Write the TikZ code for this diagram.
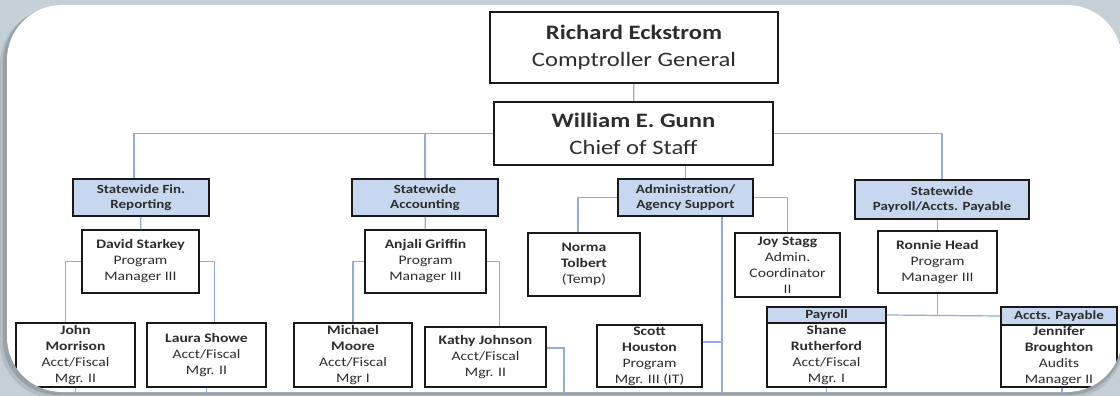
\documentclass[tikz,border=0pt]{standalone}
\usepackage{fontspec}
\setmainfont{Carlito}[FakeStretch=1.2]
\usepackage{tikz}
\definecolor{orgline}{RGB}{146,172,214}
\definecolor{unitfill}{RGB}{198,215,239}
\definecolor{slidebg}{RGB}{197,207,214}
\definecolor{slideshade}{RGB}{120,130,138}
\definecolor{orgtext}{RGB}{45,45,45}
\tikzstyle{node_top} = [rectangle, draw=black!90, line width=1.8pt, fill=white, inner sep=0pt, align=center, text=orgtext, font=\fontsize{20.5}{27}\selectfont]
\tikzstyle{node_unit} = [rectangle, draw=black!90, line width=1.6pt, fill=unitfill, inner sep=0pt, align=center, text=orgtext, font=\fontsize{12.5}{14.5}\selectfont\bfseries]
\tikzstyle{node_staff} = [rectangle, draw=black!90, line width=1.6pt, fill=white, inner sep=0pt, align=center, text=orgtext, font=\fontsize{13}{16}\selectfont]
\tikzstyle{edge_org} = [orgline, line width=1.2pt]

\begin{document}
\begin{tikzpicture}[x=1pt,y=-1pt]
\useasboundingbox (0,0) rectangle (1120,396);
\fill[slidebg] (0,0) rectangle (1120,396);
\fill[slideshade, opacity=0.25, rounded corners=55pt] (0,9) rectangle (1124,398);
\fill[slideshade, opacity=0.45, rounded corners=55pt] (3,7) rectangle (1123,395);
\fill[white, rounded corners=55pt] (7,5) rectangle (1122,392);

\begin{scope}
\clip[rounded corners=55pt] (7,5) rectangle (1122,392);

\node (rich) at (634,47.5) [node_top, minimum width=288pt, minimum height=71pt] {\textbf{Richard Eckstrom}\\Comptroller General};
\node (gunn) at (633.5,133.5) [node_top, minimum width=279pt, minimum height=63pt] {\textbf{William E. Gunn}\\Chief of Staff};

\node (fin) at (141,197.5) [node_unit, minimum width=136pt, minimum height=37pt] {Statewide Fin.\\Reporting};
\node (acct) at (425,197.5) [node_unit, minimum width=146pt, minimum height=37pt] {Statewide\\Accounting};
\node (admin) at (685.5,197.5) [node_unit, minimum width=135pt, minimum height=37pt] {Administration/\\Agency Support};
\node (pay) at (942,199.5) [node_unit, minimum width=174pt, minimum height=39pt] {Statewide\\Payroll/Accts. Payable};

\node (starkey) at (140.5,261.5) [node_staff, minimum width=117pt, minimum height=63pt] {\textbf{David Starkey}\\Program\\Manager III};
\node (griffin) at (425.5,261.5) [node_staff, minimum width=121pt, minimum height=63pt] {\textbf{Anjali Griffin}\\Program\\Manager III};
\node (tolbert) at (584,264.5) [node_staff, minimum width=112pt, minimum height=63pt] {\textbf{Norma}\\\textbf{Tolbert}\\(Temp)};
\node (stagg) at (787.5,265) [node_staff, minimum width=105pt, minimum height=64pt] {\textbf{Joy Stagg}\\Admin.\\Coordinator\\II};
\node (head) at (937.5,262) [node_staff, minimum width=119pt, minimum height=62pt] {\textbf{Ronnie Head}\\Program\\Manager III};

\node (morrison) at (75.5,355) [node_staff, minimum width=119pt, minimum height=64pt] {\textbf{John}\\\textbf{Morrison}\\Acct/Fiscal\\Mgr. II};
\node (showe) at (206.5,355) [node_staff, minimum width=119pt, minimum height=64pt] {\textbf{Laura Showe}\\Acct/Fiscal\\Mgr. II};
\node (moore) at (353,355) [node_staff, minimum width=118pt, minimum height=64pt] {\textbf{Michael}\\\textbf{Moore}\\Acct/Fiscal\\Mgr I};
\node (johnson) at (485.5,357) [node_staff, minimum width=121pt, minimum height=60pt] {\textbf{Kathy Johnson}\\Acct/Fiscal\\Mgr. II};
\node (houston) at (649.5,356) [node_staff, minimum width=105pt, minimum height=62pt] {\textbf{Scott}\\\textbf{Houston}\\Program\\Mgr. III (IT)};

\node (rutherford) at (826.5,355) [node_staff, minimum width=119pt, minimum height=64pt] {\textbf{Shane}\\\textbf{Rutherford}\\Acct/Fiscal\\Mgr. I};
\node (payroll_hdr) at (826.5,315) [node_unit, minimum width=119pt, minimum height=16pt] {Payroll};
\node (broughton) at (1059,356) [node_staff, minimum width=116pt, minimum height=62pt] {\textbf{Jennifer}\\\textbf{Broughton}\\Audits\\Manager II};
\node (payables_hdr) at (1059,316) [node_unit, minimum width=116pt, minimum height=18pt] {Accts. Payable};

\coordinate (admin_bus) at (722,400);
\coordinate (kathy_bus) at (564,400);
\coordinate (stub_a) at (75.5,400);
\coordinate (stub_b) at (206.5,400);
\coordinate (stub_c) at (826.5,400);
\coordinate (stub_d) at (1062,400);

\draw[edge_org] (rich) -- (gunn);
\draw[edge_org] (gunn.west) -| ([xshift=-7pt]fin.north);
\draw[edge_org] (gunn.west) -| (acct.north);
\draw[edge_org] (gunn.east) -| (pay.north);
\draw[edge_org] (admin.north |- gunn.south) -- (admin.north);

\draw[edge_org] (fin) -- (starkey);
\draw[edge_org] (acct) -- (griffin);
\draw[edge_org] (head.north |- pay.south) -- (head.north);

\draw[edge_org] (starkey.west) -| ([xshift=-10pt]morrison.north);
\draw[edge_org] (starkey.east) -| ([xshift=8pt]showe.north);
\draw[edge_org] (griffin.west) -| (moore.north);
\draw[edge_org] (griffin.east) -| ([xshift=14pt]johnson.north);
\draw[edge_org] ([yshift=9pt]johnson.east) -| (kathy_bus);

\draw[edge_org] (admin.west) -| ([xshift=-6pt]tolbert.north);
\draw[edge_org] (admin.east) -| (stagg.north);
\draw[edge_org] (admin.south -| admin_bus) -- (admin_bus);
\draw[edge_org] ([yshift=14pt]houston.east) -- ([yshift=14pt]houston.east -| admin_bus);

\draw[edge_org] (head.south) -- (head.south |- payroll_hdr.east);
\draw[edge_org] (payroll_hdr.east) -- (payables_hdr.west);

\draw[edge_org] (morrison.south) -- (stub_a);
\draw[edge_org] (showe.south) -- (stub_b);
\draw[edge_org] (rutherford.south) -- (stub_c);
\draw[edge_org] (broughton.south -| stub_d) -- (stub_d);
\end{scope}
\end{tikzpicture}
\end{document}
